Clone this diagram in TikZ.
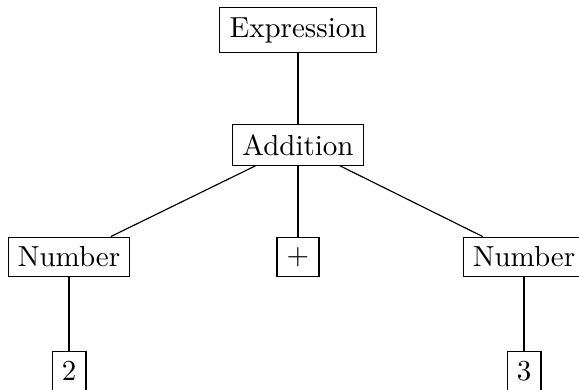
\documentclass[tikz,border=0pt]{standalone}
\begin{document}
\begin{tikzpicture}[x=0.3448pt,y=-0.3448pt,
  tn/.style={draw,inner sep=0.3333em,line width=0.4pt},
  edge/.style={line width=0.4pt}]
\useasboundingbox (0,0) rectangle (579,389);
\node[tn] (expr) at (298,30) {Expression};
\node[tn] (add) at (298,145) {Addition};
\node[tn] (numl) at (69,257) {Number};
\node[tn] (plus) at (298,257) {$+$};
\node[tn] (numr) at (524,257) {Number};
\node[tn] (two) at (69,371) {2};
\node[tn] (three) at (524,371) {3};
\draw[edge] (expr) -- (add);
\draw[edge] (add) -- (numl);
\draw[edge] (add) -- (plus);
\draw[edge] (add) -- (numr);
\draw[edge] (numl) -- (two);
\draw[edge] (numr) -- (three);
\end{tikzpicture}
\end{document}
